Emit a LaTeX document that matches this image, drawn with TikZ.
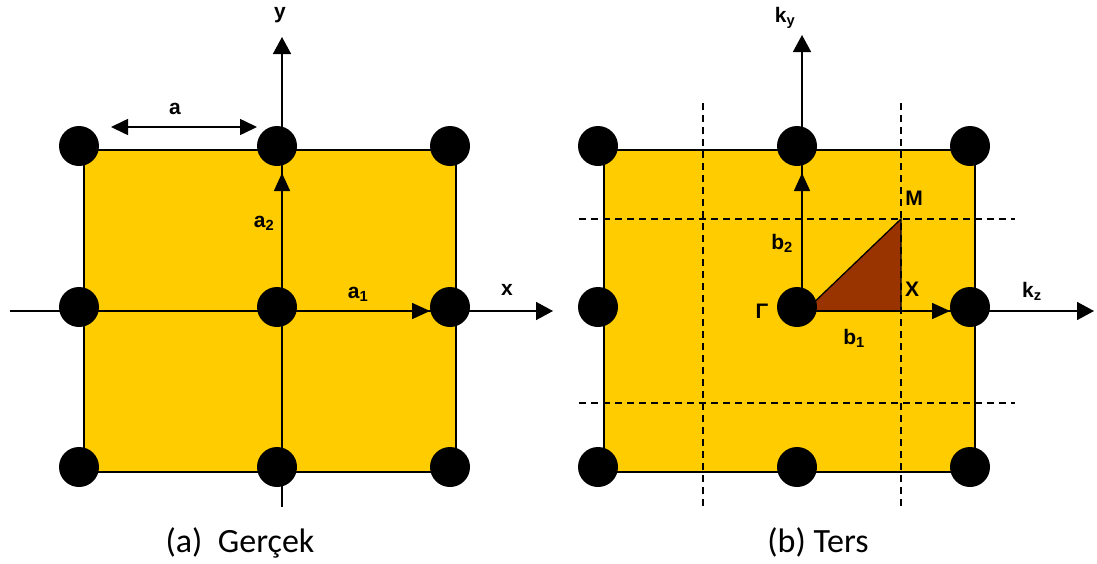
\documentclass[tikz,border=0pt]{standalone}
\usepackage{fontspec}
\setmainfont{Liberation Sans}
\newfontfamily\capfont{Carlito}
\usetikzlibrary{positioning, arrows.meta}
\definecolor{cellFill}{HTML}{FFCC00}
\definecolor{ibzFill} {HTML}{993300}
\tikzset{
  latPt/.style={circle, fill=black, minimum size=40pt, inner sep=0pt},
  axisLine/.style={line width=1.6pt, -{Triangle[length=17pt, width=18pt]}},
  vecLine/.style={line width=1.6pt, -{Triangle[length=18pt, width=16pt]}},
  zoneLine/.style={line width=1.3pt, dash pattern=on 7pt off 5pt},
  lbl/.style={font=\fontsize{21}{24}\selectfont\bfseries, inner sep=1pt},
  capLbl/.style={font=\capfont\fontsize{34}{38}\selectfont, anchor=base},
}
\begin{document}
\begin{tikzpicture}[x=1pt, y=-1pt]
  \useasboundingbox (0,0) rectangle (1097,563);
  % (a) real lattice
  \filldraw[fill=cellFill, draw=black, line width=1.3pt] (84,150) rectangle (456,472);
  \coordinate (oR) at (282,311);
  \coordinate (xL) at (10,311);   \coordinate (xR) at (553,311);
  \coordinate (yB) at (282,507);  \coordinate (yT) at (282,37);
  \coordinate (a1e) at (430,311); \coordinate (a2e) at (282,173);
  \coordinate (aL) at (111,127);  \coordinate (aR) at (257,127);
  \draw[axisLine] (xL) -- (xR);
  \draw[axisLine] (yB) -- (yT);
  \draw[vecLine] (oR) -- (a1e);
  \draw[vecLine] (oR) -- (a2e);
  \draw[line width=1.6pt, {Triangle[length=17pt, width=16pt]}-{Triangle[length=17pt, width=16pt]}] (aL) -- (aR);
  \foreach \i/\x in {1/79, 2/277, 3/450}
    \foreach \j/\y in {1/146, 2/307, 3/467}
      \node[latPt] (r\i\j) at (\x,\y) {};
  \node[lbl] (aLbl)  at (175,109) {a};
  \node[lbl] (a1Lbl) at (358,294) {a\textsubscript{1}};
  \node[lbl] (a2Lbl) at (264,223) {a\textsubscript{2}};
  \node[lbl] (xLbl)  at (507,290) {x};
  \node[lbl] (yLbl)  at (280,15)  {y};
  \node[capLbl] (capA) at (240,552) {(a)\ \ Gerçek};

  % (b) reciprocal lattice
  \filldraw[fill=cellFill, draw=black, line width=1.3pt] (604,150) rectangle (975,472);
  \coordinate (gam) at (802,311);
  \coordinate (mPt) at (901,219); \coordinate (xPt) at (901,311);
  \filldraw[fill=ibzFill, draw=black, line width=1.3pt] (805,311) -- (mPt) -- (xPt) -- cycle;
  \foreach \x in {703, 901}
    \draw[zoneLine] (\x,103) -- (\x,507);
  \foreach \y in {219, 403}
    \draw[zoneLine] (579,\y) -- (1015,\y);
  \coordinate (kzE) at (1094,311); \coordinate (kyE) at (802,35);
  \coordinate (b1e) at (950,311);  \coordinate (b2e) at (802,173);
  \draw[axisLine] (gam) -- (kzE);
  \draw[axisLine] (gam) -- (kyE);
  \draw[vecLine] (gam) -- (b1e);
  \draw[vecLine] (gam) -- (b2e);
  \foreach \i/\x in {1/598, 2/797, 3/970}
    \foreach \j/\y in {1/146, 2/307, 3/467}
      \node[latPt] (k\i\j) at (\x,\y) {};
  \node[lbl] (mLbl)  at (914,198) {M};
  \node[lbl] (xPLbl) at (912,289) {X};
  \node[lbl] (gLbl)  at (762,311) {Γ};
  \node[lbl] (b1Lbl) at (854,338) {b\textsubscript{1}};
  \node[lbl] (b2Lbl) at (782,243) {b\textsubscript{2}};
  \node[lbl] (kzLbl) at (1032,291) {k\textsubscript{z}};
  \node[lbl] (kyLbl) at (785,18)  {k\textsubscript{y}};
  \node[capLbl] (capB) at (818,552) {(b) Ters};
\end{tikzpicture}
\end{document}
